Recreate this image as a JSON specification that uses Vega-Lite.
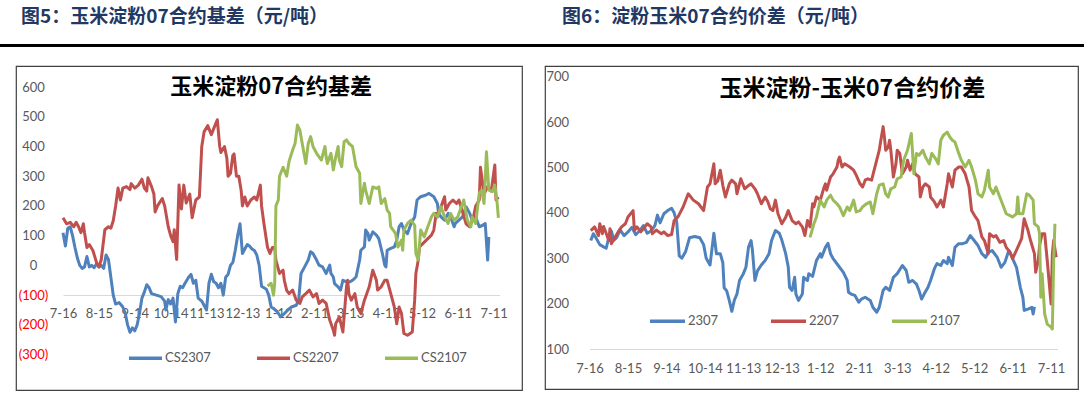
{
"$schema":"https://vega.github.io/schema/vega-lite/v6.json",
"padding":{"top":7,"left":0,"right":0,"bottom":0},
"background":"white",
"config":{"view":{"stroke":null},"axis":{"grid":false,"ticks":false,"domain":false,"labelFont":"Lato","labelFontSize":13,"labelColor":"#595959","title":null},"legend":{"title":null,"orient":"none","direction":"horizontal","symbolType":"stroke","symbolStrokeWidth":3.5,"labelFont":"Lato","labelFontSize":13,"labelColor":"#595959","labelOffset":1}},
"datasets":{
"l1":[{"t":"2022-07-16","v":110},{"t":"2022-07-18","v":65},{"t":"2022-07-20","v":125},{"t":"2022-07-22","v":130},{"t":"2022-07-24","v":100},{"t":"2022-07-26","v":60},{"t":"2022-07-28","v":25},{"t":"2022-07-30","v":0},{"t":"2022-08-01","v":-10},{"t":"2022-08-03","v":-5},{"t":"2022-08-05","v":30},{"t":"2022-08-07","v":-5},{"t":"2022-08-09","v":0},{"t":"2022-08-11","v":-8},{"t":"2022-08-13","v":5},{"t":"2022-08-15","v":-5},{"t":"2022-08-17","v":0},{"t":"2022-08-19","v":-10},{"t":"2022-08-21","v":35},{"t":"2022-08-23","v":20},{"t":"2022-08-25","v":-40},{"t":"2022-08-27","v":-100},{"t":"2022-08-29","v":-130},{"t":"2022-09-01","v":-125},{"t":"2022-09-04","v":-140},{"t":"2022-09-06","v":-160},{"t":"2022-09-08","v":-200},{"t":"2022-09-10","v":-225},{"t":"2022-09-12","v":-210},{"t":"2022-09-14","v":-220},{"t":"2022-09-16","v":-200},{"t":"2022-09-18","v":-160},{"t":"2022-09-20","v":-110},{"t":"2022-09-22","v":-90},{"t":"2022-09-24","v":-65},{"t":"2022-09-26","v":-75},{"t":"2022-09-28","v":-95},{"t":"2022-10-02","v":-100},{"t":"2022-10-06","v":-105},{"t":"2022-10-09","v":-120},{"t":"2022-10-10","v":-150},{"t":"2022-10-12","v":-115},{"t":"2022-10-14","v":-130},{"t":"2022-10-16","v":-110},{"t":"2022-10-18","v":-190},{"t":"2022-10-20","v":-95},{"t":"2022-10-22","v":-70},{"t":"2022-10-24","v":-75},{"t":"2022-10-26","v":-60},{"t":"2022-10-29","v":-40},{"t":"2022-10-31","v":-30},{"t":"2022-11-02","v":-60},{"t":"2022-11-04","v":-50},{"t":"2022-11-06","v":-110},{"t":"2022-11-09","v":-120},{"t":"2022-11-11","v":-135},{"t":"2022-11-13","v":-150},{"t":"2022-11-15","v":-60},{"t":"2022-11-17","v":-30},{"t":"2022-11-19","v":-55},{"t":"2022-11-21","v":-60},{"t":"2022-11-23","v":-75},{"t":"2022-11-25","v":-60},{"t":"2022-11-27","v":-100},{"t":"2022-11-29","v":-40},{"t":"2022-12-01","v":-30},{"t":"2022-12-03","v":0},{"t":"2022-12-05","v":10},{"t":"2022-12-07","v":50},{"t":"2022-12-09","v":100},{"t":"2022-12-11","v":140},{"t":"2022-12-13","v":40},{"t":"2022-12-15","v":55},{"t":"2022-12-17","v":70},{"t":"2022-12-19","v":65},{"t":"2022-12-21","v":55},{"t":"2022-12-23","v":50},{"t":"2022-12-25","v":35},{"t":"2022-12-27","v":0},{"t":"2022-12-29","v":-70},{"t":"2022-12-31","v":-75},{"t":"2023-01-02","v":-80},{"t":"2023-01-04","v":-100},{"t":"2023-01-06","v":-140},{"t":"2023-01-08","v":-145},{"t":"2023-01-11","v":-155},{"t":"2023-01-14","v":-173},{"t":"2023-01-17","v":-162},{"t":"2023-01-20","v":-150},{"t":"2023-01-23","v":-140},{"t":"2023-01-27","v":-134},{"t":"2023-01-29","v":-117},{"t":"2023-01-31","v":-27},{"t":"2023-02-03","v":-5},{"t":"2023-02-06","v":18},{"t":"2023-02-08","v":46},{"t":"2023-02-10","v":40},{"t":"2023-02-13","v":18},{"t":"2023-02-15","v":1},{"t":"2023-02-18","v":-5},{"t":"2023-02-21","v":-27},{"t":"2023-02-24","v":1},{"t":"2023-02-25","v":-27},{"t":"2023-02-27","v":-39},{"t":"2023-02-28","v":-61},{"t":"2023-03-03","v":-72},{"t":"2023-03-05","v":-83},{"t":"2023-03-07","v":-50},{"t":"2023-03-10","v":-55},{"t":"2023-03-13","v":-55},{"t":"2023-03-15","v":-50},{"t":"2023-03-18","v":-39},{"t":"2023-03-21","v":18},{"t":"2023-03-22","v":51},{"t":"2023-03-25","v":62},{"t":"2023-03-26","v":119},{"t":"2023-03-28","v":107},{"t":"2023-03-29","v":85},{"t":"2023-04-01","v":113},{"t":"2023-04-04","v":102},{"t":"2023-04-06","v":90},{"t":"2023-04-09","v":40},{"t":"2023-04-11","v":1},{"t":"2023-04-12","v":-5},{"t":"2023-04-13","v":51},{"t":"2023-04-16","v":57},{"t":"2023-04-19","v":62},{"t":"2023-04-21","v":85},{"t":"2023-04-23","v":130},{"t":"2023-04-25","v":141},{"t":"2023-04-27","v":119},{"t":"2023-04-30","v":107},{"t":"2023-05-03","v":141},{"t":"2023-05-06","v":163},{"t":"2023-05-08","v":220},{"t":"2023-05-11","v":231},{"t":"2023-05-15","v":236},{"t":"2023-05-18","v":242},{"t":"2023-05-22","v":231},{"t":"2023-05-25","v":208},{"t":"2023-05-26","v":175},{"t":"2023-05-28","v":163},{"t":"2023-05-31","v":152},{"t":"2023-06-03","v":175},{"t":"2023-06-05","v":163},{"t":"2023-06-08","v":130},{"t":"2023-06-09","v":141},{"t":"2023-06-12","v":152},{"t":"2023-06-15","v":163},{"t":"2023-06-18","v":197},{"t":"2023-06-21","v":175},{"t":"2023-06-23","v":152},{"t":"2023-06-26","v":163},{"t":"2023-06-29","v":130},{"t":"2023-07-02","v":135},{"t":"2023-07-04","v":141},{"t":"2023-07-06","v":18},{"t":"2023-07-07","v":96}],
"l2":[{"t":"2022-07-16","v":160},{"t":"2022-07-19","v":140},{"t":"2022-07-22","v":145},{"t":"2022-07-25","v":130},{"t":"2022-07-27","v":145},{"t":"2022-07-29","v":130},{"t":"2022-07-31","v":110},{"t":"2022-08-02","v":140},{"t":"2022-08-03","v":110},{"t":"2022-08-05","v":60},{"t":"2022-08-07","v":70},{"t":"2022-08-10","v":50},{"t":"2022-08-13","v":10},{"t":"2022-08-15","v":-5},{"t":"2022-08-17","v":20},{"t":"2022-08-20","v":120},{"t":"2022-08-23","v":130},{"t":"2022-08-25","v":125},{"t":"2022-08-27","v":150},{"t":"2022-08-29","v":200},{"t":"2022-08-31","v":260},{"t":"2022-09-02","v":220},{"t":"2022-09-04","v":260},{"t":"2022-09-07","v":265},{"t":"2022-09-10","v":255},{"t":"2022-09-11","v":275},{"t":"2022-09-14","v":260},{"t":"2022-09-17","v":270},{"t":"2022-09-20","v":290},{"t":"2022-09-22","v":260},{"t":"2022-09-24","v":250},{"t":"2022-09-25","v":295},{"t":"2022-09-28","v":265},{"t":"2022-09-30","v":240},{"t":"2022-10-01","v":180},{"t":"2022-10-03","v":200},{"t":"2022-10-07","v":225},{"t":"2022-10-09","v":200},{"t":"2022-10-12","v":130},{"t":"2022-10-14","v":100},{"t":"2022-10-16","v":80},{"t":"2022-10-17","v":120},{"t":"2022-10-19","v":20},{"t":"2022-10-21","v":270},{"t":"2022-10-23","v":190},{"t":"2022-10-25","v":270},{"t":"2022-10-27","v":210},{"t":"2022-10-30","v":240},{"t":"2022-11-01","v":160},{"t":"2022-11-04","v":220},{"t":"2022-11-07","v":230},{"t":"2022-11-09","v":400},{"t":"2022-11-11","v":450},{"t":"2022-11-14","v":470},{"t":"2022-11-17","v":440},{"t":"2022-11-20","v":470},{"t":"2022-11-22","v":490},{"t":"2022-11-24","v":400},{"t":"2022-11-25","v":380},{"t":"2022-11-28","v":400},{"t":"2022-11-30","v":360},{"t":"2022-12-01","v":300},{"t":"2022-12-03","v":310},{"t":"2022-12-05","v":370},{"t":"2022-12-06","v":375},{"t":"2022-12-08","v":300},{"t":"2022-12-10","v":300},{"t":"2022-12-12","v":250},{"t":"2022-12-13","v":200},{"t":"2022-12-15","v":230},{"t":"2022-12-17","v":200},{"t":"2022-12-20","v":220},{"t":"2022-12-23","v":230},{"t":"2022-12-25","v":220},{"t":"2022-12-28","v":270},{"t":"2022-12-29","v":200},{"t":"2022-12-31","v":140},{"t":"2023-01-03","v":60},{"t":"2023-01-05","v":40},{"t":"2023-01-07","v":60},{"t":"2023-01-09","v":60},{"t":"2023-01-10","v":18},{"t":"2023-01-13","v":-27},{"t":"2023-01-16","v":-16},{"t":"2023-01-17","v":-50},{"t":"2023-01-19","v":-84},{"t":"2023-01-21","v":-95},{"t":"2023-01-24","v":-83},{"t":"2023-01-27","v":-117},{"t":"2023-01-30","v":-128},{"t":"2023-02-01","v":-106},{"t":"2023-02-04","v":-95},{"t":"2023-02-07","v":-83},{"t":"2023-02-10","v":-106},{"t":"2023-02-13","v":-95},{"t":"2023-02-15","v":-128},{"t":"2023-02-18","v":-117},{"t":"2023-02-21","v":-128},{"t":"2023-02-24","v":-184},{"t":"2023-02-27","v":-218},{"t":"2023-02-28","v":-235},{"t":"2023-03-01","v":-196},{"t":"2023-03-04","v":-173},{"t":"2023-03-07","v":-224},{"t":"2023-03-10","v":-72},{"t":"2023-03-11","v":-50},{"t":"2023-03-12","v":-95},{"t":"2023-03-14","v":-117},{"t":"2023-03-17","v":-95},{"t":"2023-03-19","v":-140},{"t":"2023-03-22","v":-162},{"t":"2023-03-25","v":-117},{"t":"2023-03-29","v":-72},{"t":"2023-04-01","v":-16},{"t":"2023-04-04","v":-50},{"t":"2023-04-05","v":-83},{"t":"2023-04-08","v":-72},{"t":"2023-04-11","v":-50},{"t":"2023-04-13","v":-50},{"t":"2023-04-16","v":-95},{"t":"2023-04-19","v":-140},{"t":"2023-04-21","v":-196},{"t":"2023-04-23","v":-140},{"t":"2023-04-25","v":-162},{"t":"2023-04-27","v":-229},{"t":"2023-04-30","v":-235},{"t":"2023-05-04","v":-224},{"t":"2023-05-06","v":-117},{"t":"2023-05-07","v":-27},{"t":"2023-05-09","v":18},{"t":"2023-05-10","v":62},{"t":"2023-05-13","v":74},{"t":"2023-05-17","v":90},{"t":"2023-05-20","v":102},{"t":"2023-05-22","v":119},{"t":"2023-05-24","v":175},{"t":"2023-05-25","v":163},{"t":"2023-05-28","v":197},{"t":"2023-05-31","v":231},{"t":"2023-06-01","v":186},{"t":"2023-06-04","v":208},{"t":"2023-06-07","v":220},{"t":"2023-06-10","v":208},{"t":"2023-06-12","v":220},{"t":"2023-06-15","v":180},{"t":"2023-06-18","v":140},{"t":"2023-06-21","v":130},{"t":"2023-06-24","v":160},{"t":"2023-06-26","v":200},{"t":"2023-06-29","v":220},{"t":"2023-06-30","v":330},{"t":"2023-07-03","v":240},{"t":"2023-07-06","v":265},{"t":"2023-07-09","v":250},{"t":"2023-07-12","v":338},{"t":"2023-07-13","v":220},{"t":"2023-07-15","v":230}],
"l3":[{"t":"2023-01-03","v":-70},{"t":"2023-01-06","v":-60},{"t":"2023-01-08","v":-100},{"t":"2023-01-09","v":-60},{"t":"2023-01-10","v":200},{"t":"2023-01-12","v":220},{"t":"2023-01-13","v":300},{"t":"2023-01-16","v":330},{"t":"2023-01-19","v":300},{"t":"2023-01-21","v":350},{"t":"2023-01-24","v":388},{"t":"2023-01-26","v":410},{"t":"2023-01-28","v":472},{"t":"2023-01-30","v":455},{"t":"2023-02-01","v":410},{"t":"2023-02-04","v":343},{"t":"2023-02-06","v":410},{"t":"2023-02-08","v":433},{"t":"2023-02-10","v":400},{"t":"2023-02-13","v":377},{"t":"2023-02-17","v":354},{"t":"2023-02-20","v":400},{"t":"2023-02-21","v":365},{"t":"2023-02-22","v":343},{"t":"2023-02-25","v":377},{"t":"2023-02-27","v":321},{"t":"2023-03-01","v":365},{"t":"2023-03-03","v":400},{"t":"2023-03-04","v":354},{"t":"2023-03-06","v":332},{"t":"2023-03-08","v":416},{"t":"2023-03-10","v":422},{"t":"2023-03-12","v":410},{"t":"2023-03-15","v":400},{"t":"2023-03-18","v":332},{"t":"2023-03-21","v":310},{"t":"2023-03-22","v":208},{"t":"2023-03-25","v":276},{"t":"2023-03-26","v":253},{"t":"2023-03-29","v":208},{"t":"2023-04-01","v":264},{"t":"2023-04-04","v":259},{"t":"2023-04-06","v":264},{"t":"2023-04-08","v":208},{"t":"2023-04-11","v":225},{"t":"2023-04-13","v":186},{"t":"2023-04-15","v":175},{"t":"2023-04-16","v":130},{"t":"2023-04-18","v":119},{"t":"2023-04-20","v":107},{"t":"2023-04-22","v":62},{"t":"2023-04-25","v":85},{"t":"2023-04-26","v":51},{"t":"2023-04-27","v":119},{"t":"2023-04-30","v":141},{"t":"2023-05-03","v":152},{"t":"2023-05-06","v":135},{"t":"2023-05-07","v":40},{"t":"2023-05-09","v":18},{"t":"2023-05-11","v":119},{"t":"2023-05-14","v":96},{"t":"2023-05-17","v":130},{"t":"2023-05-20","v":163},{"t":"2023-05-22","v":175},{"t":"2023-05-25","v":163},{"t":"2023-05-28","v":197},{"t":"2023-05-31","v":163},{"t":"2023-06-03","v":141},{"t":"2023-06-05","v":175},{"t":"2023-06-08","v":152},{"t":"2023-06-11","v":163},{"t":"2023-06-14","v":197},{"t":"2023-06-16","v":220},{"t":"2023-06-19","v":152},{"t":"2023-06-22","v":130},{"t":"2023-06-23","v":163},{"t":"2023-06-26","v":141},{"t":"2023-06-29","v":242},{"t":"2023-07-01","v":253},{"t":"2023-07-03","v":208},{"t":"2023-07-05","v":382},{"t":"2023-07-07","v":253},{"t":"2023-07-10","v":248},{"t":"2023-07-12","v":270},{"t":"2023-07-14","v":208},{"t":"2023-07-15","v":160}],
"r1":[{"t":"2022-07-17","v":339},{"t":"2022-07-19","v":354},{"t":"2022-07-21","v":345},{"t":"2022-07-24","v":330},{"t":"2022-07-27","v":325},{"t":"2022-07-29","v":322},{"t":"2022-07-31","v":345},{"t":"2022-08-02","v":360},{"t":"2022-08-04","v":340},{"t":"2022-08-06","v":345},{"t":"2022-08-09","v":362},{"t":"2022-08-12","v":350},{"t":"2022-08-15","v":358},{"t":"2022-08-18","v":368},{"t":"2022-08-21","v":352},{"t":"2022-08-24","v":360},{"t":"2022-08-27","v":372},{"t":"2022-08-30","v":355},{"t":"2022-09-02","v":360},{"t":"2022-09-05","v":372},{"t":"2022-09-07","v":395},{"t":"2022-09-09","v":378},{"t":"2022-09-12","v":398},{"t":"2022-09-15","v":405},{"t":"2022-09-18","v":410},{"t":"2022-09-20","v":400},{"t":"2022-09-22","v":380},{"t":"2022-09-24","v":305},{"t":"2022-09-26","v":300},{"t":"2022-09-29","v":315},{"t":"2022-10-02","v":345},{"t":"2022-10-06","v":348},{"t":"2022-10-10","v":345},{"t":"2022-10-13","v":330},{"t":"2022-10-15","v":300},{"t":"2022-10-18","v":285},{"t":"2022-10-21","v":355},{"t":"2022-10-23","v":310},{"t":"2022-10-26","v":310},{"t":"2022-10-28","v":290},{"t":"2022-10-29","v":235},{"t":"2022-10-31","v":228},{"t":"2022-11-02","v":207},{"t":"2022-11-04","v":183},{"t":"2022-11-06","v":208},{"t":"2022-11-08","v":221},{"t":"2022-11-10","v":251},{"t":"2022-11-13","v":266},{"t":"2022-11-15","v":280},{"t":"2022-11-17","v":324},{"t":"2022-11-19","v":339},{"t":"2022-11-20","v":320},{"t":"2022-11-22","v":251},{"t":"2022-11-24","v":272},{"t":"2022-11-27","v":285},{"t":"2022-11-30","v":295},{"t":"2022-12-03","v":310},{"t":"2022-12-05","v":339},{"t":"2022-12-08","v":361},{"t":"2022-12-11","v":355},{"t":"2022-12-13","v":340},{"t":"2022-12-16","v":310},{"t":"2022-12-18","v":281},{"t":"2022-12-19","v":236},{"t":"2022-12-21","v":229},{"t":"2022-12-23","v":258},{"t":"2022-12-24","v":221},{"t":"2022-12-26","v":207},{"t":"2022-12-29","v":221},{"t":"2022-12-30","v":258},{"t":"2023-01-02","v":251},{"t":"2023-01-03","v":266},{"t":"2023-01-06","v":260},{"t":"2023-01-09","v":295},{"t":"2023-01-12","v":310},{"t":"2023-01-13","v":302},{"t":"2023-01-16","v":324},{"t":"2023-01-18","v":333},{"t":"2023-01-20","v":310},{"t":"2023-01-22","v":299},{"t":"2023-01-26","v":284},{"t":"2023-01-30","v":269},{"t":"2023-02-02","v":251},{"t":"2023-02-03","v":225},{"t":"2023-02-05","v":221},{"t":"2023-02-08","v":218},{"t":"2023-02-11","v":203},{"t":"2023-02-13","v":210},{"t":"2023-02-16","v":214},{"t":"2023-02-20","v":207},{"t":"2023-02-22","v":192},{"t":"2023-02-25","v":181},{"t":"2023-02-27","v":192},{"t":"2023-03-02","v":229},{"t":"2023-03-04","v":236},{"t":"2023-03-07","v":229},{"t":"2023-03-10","v":258},{"t":"2023-03-13","v":266},{"t":"2023-03-17","v":284},{"t":"2023-03-20","v":273},{"t":"2023-03-22","v":247},{"t":"2023-03-25","v":251},{"t":"2023-03-28","v":243},{"t":"2023-03-30","v":229},{"t":"2023-04-01","v":210},{"t":"2023-04-03","v":221},{"t":"2023-04-06","v":236},{"t":"2023-04-08","v":251},{"t":"2023-04-11","v":277},{"t":"2023-04-13","v":288},{"t":"2023-04-16","v":284},{"t":"2023-04-18","v":295},{"t":"2023-04-21","v":288},{"t":"2023-04-22","v":302},{"t":"2023-04-25","v":284},{"t":"2023-04-27","v":324},{"t":"2023-04-30","v":332},{"t":"2023-05-03","v":332},{"t":"2023-05-06","v":335},{"t":"2023-05-09","v":350},{"t":"2023-05-12","v":339},{"t":"2023-05-15","v":328},{"t":"2023-05-18","v":310},{"t":"2023-05-21","v":302},{"t":"2023-05-23","v":313},{"t":"2023-05-26","v":317},{"t":"2023-05-30","v":302},{"t":"2023-06-02","v":280},{"t":"2023-06-05","v":291},{"t":"2023-06-08","v":317},{"t":"2023-06-09","v":313},{"t":"2023-06-11","v":299},{"t":"2023-06-14","v":280},{"t":"2023-06-17","v":236},{"t":"2023-06-19","v":214},{"t":"2023-06-20","v":185},{"t":"2023-06-23","v":188},{"t":"2023-06-26","v":192},{"t":"2023-06-27","v":177},{"t":"2023-06-28","v":193}],
"r2":[{"t":"2022-07-17","v":361},{"t":"2022-07-20","v":369},{"t":"2022-07-23","v":350},{"t":"2022-07-24","v":376},{"t":"2022-07-26","v":354},{"t":"2022-07-27","v":370},{"t":"2022-07-29","v":355},{"t":"2022-07-31","v":339},{"t":"2022-08-01","v":365},{"t":"2022-08-02","v":332},{"t":"2022-08-05","v":346},{"t":"2022-08-08","v":361},{"t":"2022-08-10","v":369},{"t":"2022-08-13","v":376},{"t":"2022-08-15","v":391},{"t":"2022-08-19","v":405},{"t":"2022-08-20","v":361},{"t":"2022-08-22","v":369},{"t":"2022-08-25","v":358},{"t":"2022-08-27","v":365},{"t":"2022-08-30","v":376},{"t":"2022-09-02","v":369},{"t":"2022-09-03","v":354},{"t":"2022-09-06","v":362},{"t":"2022-09-10","v":354},{"t":"2022-09-12","v":358},{"t":"2022-09-15","v":350},{"t":"2022-09-18","v":352},{"t":"2022-09-20","v":383},{"t":"2022-09-23","v":391},{"t":"2022-09-27","v":413},{"t":"2022-10-01","v":442},{"t":"2022-10-05","v":428},{"t":"2022-10-09","v":420},{"t":"2022-10-13","v":405},{"t":"2022-10-16","v":457},{"t":"2022-10-18","v":464},{"t":"2022-10-21","v":508},{"t":"2022-10-22","v":464},{"t":"2022-10-24","v":470},{"t":"2022-10-26","v":494},{"t":"2022-10-28","v":460},{"t":"2022-10-30","v":435},{"t":"2022-11-02","v":464},{"t":"2022-11-04","v":472},{"t":"2022-11-07","v":464},{"t":"2022-11-08","v":442},{"t":"2022-11-11","v":475},{"t":"2022-11-14","v":453},{"t":"2022-11-16","v":458},{"t":"2022-11-19","v":464},{"t":"2022-11-22","v":453},{"t":"2022-11-24","v":442},{"t":"2022-11-27","v":420},{"t":"2022-11-30","v":435},{"t":"2022-12-02","v":425},{"t":"2022-12-04","v":409},{"t":"2022-12-06","v":405},{"t":"2022-12-08","v":428},{"t":"2022-12-10","v":398},{"t":"2022-12-13","v":376},{"t":"2022-12-16","v":390},{"t":"2022-12-18","v":405},{"t":"2022-12-21","v":383},{"t":"2022-12-24","v":376},{"t":"2022-12-26","v":380},{"t":"2022-12-29","v":369},{"t":"2022-12-31","v":350},{"t":"2023-01-02","v":383},{"t":"2023-01-04","v":369},{"t":"2023-01-06","v":420},{"t":"2023-01-07","v":413},{"t":"2023-01-09","v":435},{"t":"2023-01-12","v":428},{"t":"2023-01-15","v":457},{"t":"2023-01-16","v":464},{"t":"2023-01-17","v":450},{"t":"2023-01-20","v":479},{"t":"2023-01-22","v":486},{"t":"2023-01-25","v":501},{"t":"2023-01-26","v":516},{"t":"2023-01-27","v":523},{"t":"2023-01-29","v":501},{"t":"2023-01-31","v":508},{"t":"2023-02-04","v":501},{"t":"2023-02-07","v":494},{"t":"2023-02-09","v":483},{"t":"2023-02-12","v":464},{"t":"2023-02-14","v":457},{"t":"2023-02-16","v":472},{"t":"2023-02-18","v":475},{"t":"2023-02-21","v":472},{"t":"2023-02-23","v":494},{"t":"2023-02-25","v":516},{"t":"2023-02-27","v":538},{"t":"2023-02-28","v":556},{"t":"2023-03-02","v":590},{"t":"2023-03-03","v":567},{"t":"2023-03-04","v":538},{"t":"2023-03-06","v":545},{"t":"2023-03-07","v":560},{"t":"2023-03-08","v":538},{"t":"2023-03-10","v":479},{"t":"2023-03-12","v":508},{"t":"2023-03-13","v":538},{"t":"2023-03-15","v":531},{"t":"2023-03-17","v":486},{"t":"2023-03-20","v":501},{"t":"2023-03-21","v":516},{"t":"2023-03-23","v":494},{"t":"2023-03-25","v":508},{"t":"2023-03-27","v":486},{"t":"2023-03-30","v":479},{"t":"2023-03-31","v":435},{"t":"2023-04-02","v":457},{"t":"2023-04-04","v":464},{"t":"2023-04-07","v":457},{"t":"2023-04-08","v":435},{"t":"2023-04-11","v":424},{"t":"2023-04-13","v":413},{"t":"2023-04-16","v":428},{"t":"2023-04-18","v":413},{"t":"2023-04-21","v":464},{"t":"2023-04-22","v":486},{"t":"2023-04-25","v":457},{"t":"2023-04-27","v":494},{"t":"2023-04-30","v":501},{"t":"2023-05-02","v":501},{"t":"2023-05-05","v":486},{"t":"2023-05-08","v":457},{"t":"2023-05-10","v":405},{"t":"2023-05-13","v":391},{"t":"2023-05-15","v":383},{"t":"2023-05-18","v":347},{"t":"2023-05-20","v":339},{"t":"2023-05-23","v":310},{"t":"2023-05-24","v":354},{"t":"2023-05-27","v":347},{"t":"2023-05-29","v":350},{"t":"2023-06-01","v":335},{"t":"2023-06-04","v":339},{"t":"2023-06-06","v":324},{"t":"2023-06-09","v":313},{"t":"2023-06-11","v":299},{"t":"2023-06-15","v":324},{"t":"2023-06-18","v":343},{"t":"2023-06-20","v":387},{"t":"2023-06-23","v":361},{"t":"2023-06-25","v":339},{"t":"2023-06-28","v":310},{"t":"2023-06-29","v":269},{"t":"2023-07-01","v":295},{"t":"2023-07-02","v":328},{"t":"2023-07-04","v":354},{"t":"2023-07-06","v":354},{"t":"2023-07-08","v":295},{"t":"2023-07-11","v":199},{"t":"2023-07-12","v":310},{"t":"2023-07-13","v":339},{"t":"2023-07-15","v":302}],
"r3":[{"t":"2023-01-04","v":346},{"t":"2023-01-07","v":376},{"t":"2023-01-09","v":391},{"t":"2023-01-12","v":428},{"t":"2023-01-15","v":413},{"t":"2023-01-17","v":428},{"t":"2023-01-20","v":439},{"t":"2023-01-22","v":428},{"t":"2023-01-25","v":420},{"t":"2023-01-27","v":413},{"t":"2023-01-30","v":394},{"t":"2023-02-02","v":413},{"t":"2023-02-04","v":405},{"t":"2023-02-07","v":428},{"t":"2023-02-09","v":402},{"t":"2023-02-12","v":405},{"t":"2023-02-14","v":413},{"t":"2023-02-17","v":420},{"t":"2023-02-20","v":424},{"t":"2023-02-22","v":398},{"t":"2023-02-25","v":442},{"t":"2023-02-27","v":461},{"t":"2023-03-02","v":464},{"t":"2023-03-04","v":442},{"t":"2023-03-06","v":435},{"t":"2023-03-08","v":453},{"t":"2023-03-11","v":457},{"t":"2023-03-13","v":475},{"t":"2023-03-16","v":479},{"t":"2023-03-18","v":516},{"t":"2023-03-21","v":538},{"t":"2023-03-24","v":575},{"t":"2023-03-26","v":486},{"t":"2023-03-28","v":531},{"t":"2023-03-30","v":527},{"t":"2023-04-02","v":538},{"t":"2023-04-04","v":523},{"t":"2023-04-07","v":508},{"t":"2023-04-09","v":531},{"t":"2023-04-12","v":519},{"t":"2023-04-14","v":508},{"t":"2023-04-16","v":560},{"t":"2023-04-18","v":571},{"t":"2023-04-21","v":578},{"t":"2023-04-23","v":567},{"t":"2023-04-25","v":560},{"t":"2023-04-27","v":556},{"t":"2023-04-30","v":531},{"t":"2023-05-02","v":516},{"t":"2023-05-05","v":501},{"t":"2023-05-08","v":516},{"t":"2023-05-10","v":501},{"t":"2023-05-13","v":472},{"t":"2023-05-15","v":442},{"t":"2023-05-18","v":435},{"t":"2023-05-20","v":450},{"t":"2023-05-23","v":494},{"t":"2023-05-24","v":457},{"t":"2023-05-27","v":442},{"t":"2023-05-29","v":457},{"t":"2023-06-01","v":435},{"t":"2023-06-04","v":413},{"t":"2023-06-06","v":398},{"t":"2023-06-09","v":394},{"t":"2023-06-11","v":391},{"t":"2023-06-14","v":398},{"t":"2023-06-15","v":435},{"t":"2023-06-16","v":398},{"t":"2023-06-19","v":398},{"t":"2023-06-22","v":442},{"t":"2023-06-24","v":439},{"t":"2023-06-27","v":428},{"t":"2023-06-28","v":376},{"t":"2023-07-01","v":369},{"t":"2023-07-02","v":354},{"t":"2023-07-03","v":214},{"t":"2023-07-04","v":266},{"t":"2023-07-06","v":177},{"t":"2023-07-08","v":155},{"t":"2023-07-11","v":148},{"t":"2023-07-12","v":144},{"t":"2023-07-13","v":295},{"t":"2023-07-14","v":376}],
"lt":[{"t":"2023-01-06","v":600,"label":"玉米淀粉07合约基差"}],
"rt":[{"t":"2023-02-06","v":673,"label":"玉米淀粉-玉米07合约价差"}]
},
"spacing":14,
"vconcat":[
{"spacing":0,"hconcat":[
{"width":542,"height":3,"view":{"fill":"#000000","stroke":null},"title":{"text":"图5：玉米淀粉07合约基差（元/吨）","anchor":"start","frame":"group","dx":21,"offset":4,"baseline":"middle","font":"Noto Sans CJK SC","fontSize":19,"fontWeight":"bold","color":"#1F3864"},"data":{"values":[{}]},"mark":{"type":"text"},"encoding":{"text":{"value":""}}},
{"width":542,"height":3,"view":{"fill":"#000000","stroke":null},"title":{"text":"图6：淀粉玉米07合约价差（元/吨）","anchor":"start","frame":"group","dx":20,"offset":4,"baseline":"middle","font":"Noto Sans CJK SC","fontSize":19,"fontWeight":"bold","color":"#1F3864"},"data":{"values":[{}]},"mark":{"type":"text"},"encoding":{"text":{"value":""}}}
]},
{"spacing":21,"resolve":{"scale":{"x":"independent","y":"independent","color":"independent"},"legend":{"color":"independent"}},"hconcat":[
{"spacing":14,"resolve":{"scale":{"x":"independent","y":"independent","color":"independent"}},"hconcat":[
{"width":1,"height":1,"view":{"stroke":null},"data":{"values":[{}]},"mark":{"type":"point","size":0,"opacity":0},"encoding":{}},
{"width":506,"height":324,"view":{"stroke":"#404040","strokeWidth":1.2},
"encoding":{
"x":{"field":"t","type":"temporal","scale":{"type":"utc","domain":[{"year":2022,"month":7,"date":16,"utc":true},{"year":2023,"month":7,"date":16,"utc":true}],"range":[47,483.6]},"axis":{"orient":"bottom","offset":-95,"domain":true,"domainColor":"#D9D9D9","domainWidth":1,"format":"%-m-%-d","labelPadding":12,"labelOverlap":false,"labelFlush":false,"values":[{"year":2022,"month":7,"date":16,"utc":true},{"year":2022,"month":8,"date":15,"utc":true},{"year":2022,"month":9,"date":14,"utc":true},{"year":2022,"month":10,"date":14,"utc":true},{"year":2022,"month":11,"date":13,"utc":true},{"year":2022,"month":12,"date":13,"utc":true},{"year":2023,"month":1,"date":12,"utc":true},{"year":2023,"month":2,"date":11,"utc":true},{"year":2023,"month":3,"date":13,"utc":true},{"year":2023,"month":4,"date":12,"utc":true},{"year":2023,"month":5,"date":12,"utc":true},{"year":2023,"month":6,"date":11,"utc":true},{"year":2023,"month":7,"date":11,"utc":true}]}},
"y":{"field":"v","type":"quantitative","scale":{"domain":[-300,600],"range":[288.6,21],"nice":false,"zero":false},"axis":{"orient":"left","offset":-17,"labelPadding":0,"labelAlign":"center","labelBaseline":"middle","values":[-300,-200,-100,0,100,200,300,400,500,600],"labelExpr":"datum.value < 0 ? '(' + format(-datum.value, 'd') + ')' : format(datum.value, 'd')","labelColor":{"condition":{"test":"datum.value < 0","value":"#FF0000"},"value":"#595959"}}}
},
"layer":[
{"data":{"name":"l1"},"mark":{"type":"line","strokeWidth":3,"strokeJoin":"round"},"encoding":{"color":{"datum":"CS2307","scale":{"domain":["CS2307","CS2207","CS2107"],"range":["#4F81BD","#C0504D","#9BBB59"]},"legend":{"legendX":111,"legendY":273.5,"symbolSize":1089,"columnPadding":39}}}},
{"data":{"name":"l2"},"mark":{"type":"line","strokeWidth":3,"strokeJoin":"round"},"encoding":{"color":{"datum":"CS2207"}}},
{"data":{"name":"l3"},"mark":{"type":"line","strokeWidth":3,"strokeJoin":"round"},"encoding":{"color":{"datum":"CS2107"}}},
{"data":{"name":"lt"},"mark":{"type":"text","font":"Noto Sans CJK SC","fontSize":22,"fontWeight":"bold","fill":"#000000","align":"center","baseline":"middle"},"encoding":{"text":{"field":"label","type":"nominal"}}}
]}
]},
{"width":533,"height":323,"view":{"stroke":"#404040","strokeWidth":1.2},
"encoding":{
"x":{"field":"t","type":"temporal","scale":{"type":"utc","domain":[{"year":2022,"month":7,"date":16,"utc":true},{"year":2023,"month":7,"date":16,"utc":true}],"range":[44.5,512.5]},"axis":{"orient":"bottom","offset":-40,"domain":true,"domainColor":"#D9D9D9","domainWidth":1,"format":"%-m-%-d","labelPadding":13,"labelOverlap":false,"labelFlush":false,"values":[{"year":2022,"month":7,"date":16,"utc":true},{"year":2022,"month":8,"date":15,"utc":true},{"year":2022,"month":9,"date":14,"utc":true},{"year":2022,"month":10,"date":14,"utc":true},{"year":2022,"month":11,"date":13,"utc":true},{"year":2022,"month":12,"date":13,"utc":true},{"year":2023,"month":1,"date":12,"utc":true},{"year":2023,"month":2,"date":11,"utc":true},{"year":2023,"month":3,"date":13,"utc":true},{"year":2023,"month":4,"date":12,"utc":true},{"year":2023,"month":5,"date":12,"utc":true},{"year":2023,"month":6,"date":11,"utc":true},{"year":2023,"month":7,"date":11,"utc":true}]}},
"y":{"field":"v","type":"quantitative","scale":{"domain":[100,700],"range":[283,10.7],"nice":false,"zero":false},"axis":{"orient":"left","offset":-1,"labelPadding":0,"labelAlign":"left","labelBaseline":"middle","values":[100,200,300,400,500,600,700],"format":"d"}}
},
"layer":[
{"data":{"name":"r1"},"mark":{"type":"line","strokeWidth":3,"strokeJoin":"round"},"encoding":{"color":{"datum":"2307","scale":{"domain":["2307","2207","2107"],"range":["#4F81BD","#C0504D","#9BBB59"]},"legend":{"legendX":103,"legendY":235.5,"symbolSize":1225,"columnPadding":45}}}},
{"data":{"name":"r2"},"mark":{"type":"line","strokeWidth":3,"strokeJoin":"round"},"encoding":{"color":{"datum":"2207"}}},
{"data":{"name":"r3"},"mark":{"type":"line","strokeWidth":3,"strokeJoin":"round"},"encoding":{"color":{"datum":"2107"}}},
{"data":{"name":"rt"},"mark":{"type":"text","font":"Noto Sans CJK SC","fontSize":23,"fontWeight":"bold","fill":"#000000","align":"center","baseline":"middle"},"encoding":{"text":{"field":"label","type":"nominal"}}}
]}
]}
]
}
